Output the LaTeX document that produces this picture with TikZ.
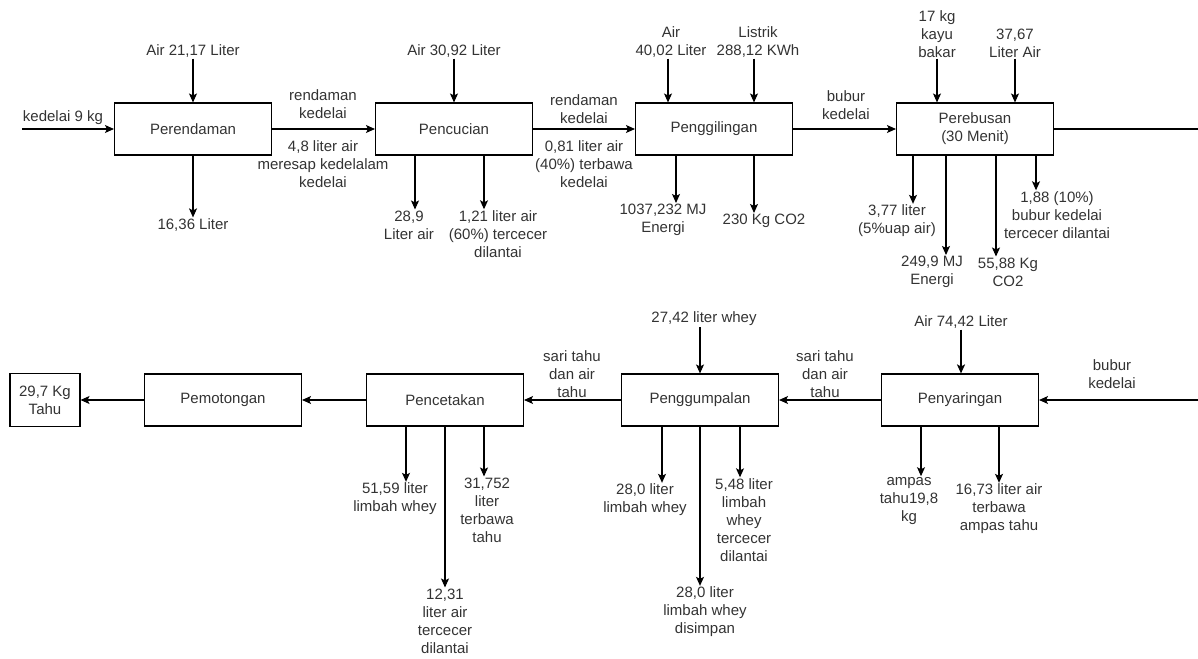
\documentclass[tikz,border=0pt]{standalone}
\usepackage{fontspec}
\setmainfont{Liberation Sans}
\usepackage{tikz}
\usetikzlibrary{positioning,arrows.meta,calc}
\definecolor{ink}{HTML}{333333}

\begin{document}
\begin{tikzpicture}[
    x=1pt, y=-1pt,
    font=\fontsize{15}{18}\selectfont, text=ink,
    proc/.style={draw, line width=1.1pt, minimum width=157pt, minimum height=52pt,
                 align=center, inner sep=2pt},
    lbl/.style={align=center, inner sep=1pt},
    flow/.style={line width=1.1pt, -{Stealth[length=9pt,width=8pt,inset=2pt]}},
    bigflow/.style={flow, line width=2pt}
  ]
    \useasboundingbox (0,0) rectangle (1198,658);

    % Top row: processes
    \node[proc] (rendam) at (193,129) {Perendaman};
    \node[proc] (cuci)   at (454,129) {Pencucian};
    \node[proc] (giling) at (714,129) {Penggilingan};
    \node[proc] (rebus)  at (975,129) {Perebusan\\(30 Menit)};

    % Perendaman
    \coordinate (kedelaiIn) at (22,129);
    \node[lbl] (kedelai) at (63,118) {kedelai 9 kg};
    \draw[flow] (kedelaiIn) -- (rendam.west);
    \node[lbl] (airRendam) at (193,51) {Air 21,17 Liter};
    \draw[flow] (airRendam.south) -- (rendam.north);
    \node[lbl] (sisaRendam) at (193,225) {16,36 Liter};
    \draw[flow] (rendam.south) -- (sisaRendam.north);
    \node[lbl] (rendamAtas) at (323,104) {rendaman\\kedelai};
    \node[lbl] (rendamBawah) at (323,164) {4,8 liter air\\meresap kedelalam\\kedelai};
    \draw[flow] (rendam.east) -- (cuci.west);

    % Pencucian
    \node[lbl] (airCuci) at (454,51) {Air 30,92 Liter};
    \draw[flow] (airCuci.south) -- (cuci.north);
    \node[lbl] (sisaCuci) at (409,225) {28,9\\Liter air};
    \draw[flow] (cuci.south -| 415,0) -- (sisaCuci.north -| 415,0);
    \node[lbl] (cecerCuci) at (498,234) {1,21 liter air\\(60\%) tercecer\\dilantai};
    \draw[flow] (cuci.south -| 484,0) -- (cecerCuci.north -| 484,0);
    \node[lbl] (cuciAtas) at (584,109) {rendaman\\kedelai};
    \node[lbl] (cuciBawah) at (584,164) {0,81 liter air\\(40\%) terbawa\\kedelai};
    \draw[flow] (cuci.east) -- (giling.west);

    % Penggilingan
    \node[lbl] (airGiling) at (671,42) {Air\\40,02 Liter};
    \draw[flow] (airGiling.south -| 668,0) -- (giling.north -| 668,0);
    \node[lbl] (listrik) at (758,42) {Listrik\\288,12 KWh};
    \draw[flow] (listrik.south -| 754,0) -- (giling.north -| 754,0);
    \node[lbl] (energiGiling) at (663,220) {1037,232 MJ\\Energi};
    \draw[flow] (giling.south -| 676,0) -- (energiGiling.north -| 676,0);
    \node[lbl] (co2Giling) at (764,221) {230 Kg CO2};
    \draw[flow] (giling.south -| 754,0) -- (co2Giling.north -| 754,0);
    \node[lbl] (bubur) at (846,105) {bubur\\kedelai};
    \draw[flow] (giling.east) -- (rebus.west);

    % Perebusan
    \node[lbl] (kayu) at (937,34) {17 kg\\kayu\\bakar};
    \draw[flow] (kayu.south) -- (rebus.north -| kayu);
    \node[lbl] (airRebus) at (1015,43) {37,67\\Liter Air};
    \draw[flow] (airRebus.south) -- (rebus.north -| airRebus);
    \coordinate (rebusOut) at (1198,129);
    \draw[line width=1.1pt] (rebus.east) -- (rebusOut);
    \node[lbl] (uap) at (897,221) {3,77 liter\\(5\%uap air)};
    \draw[flow] (rebus.south -| 913,0) -- (uap.north -| 913,0);
    \node[lbl] (energiRebus) at (932,272) {249,9 MJ\\Energi};
    \draw[flow] (rebus.south -| 946,0) -- (energiRebus.north -| 946,0);
    \node[lbl] (co2Rebus) at (1008,272) {55,88 Kg\\CO2};
    \draw[flow] (rebus.south -| 996,0) -- (co2Rebus.north -| 996,0);
    \node[lbl] (cecerRebus) at (1057,215) {1,88 (10\%)\\bubur kedelai\\tercecer dilantai};
    \draw[flow] (rebus.south -| 1036,0) -- (cecerRebus.north -| 1036,0);

    % Bottom row: processes
    \node[proc, minimum width=70pt, minimum height=53pt] (tahu) at (45,400) {29,7 Kg\\Tahu};
    \node[proc] (potong) at (223,400) {Pemotongan};
    \node[proc] (cetak)  at (445,400) {Pencetakan};
    \node[proc] (gumpal) at (700,400) {Penggumpalan};
    \node[proc] (saring) at (960,400) {Penyaringan};

    % Penyaringan
    \coordinate (buburIn) at (1198,400);
    \node[lbl] (buburBawah) at (1112,374) {bubur\\kedelai};
    \draw[flow] (buburIn) -- (saring.east);
    \node[lbl] (airSaring) at (961,322) {Air 74,42 Liter};
    \draw[bigflow] (airSaring.south) -- (saring.north -| airSaring);
    \node[lbl] (ampas) at (909,501) {ampas\\tahu19,8\\kg};
    \draw[flow] (saring.south -| 921,0) -- (ampas.north -| 921,0);
    \node[lbl] (airAmpas) at (999,509) {16,73 liter air\\terbawa\\ampas tahu};
    \draw[flow] (saring.south -| 999,0) -- (airAmpas.north -| 999,0);
    \node[lbl] (sariSaring) at (825,374) {sari tahu\\dan air\\tahu};
    \draw[flow] (saring.west) -- (gumpal.east);

    % Penggumpalan
    \node[lbl] (whey) at (704,319) {27,42 liter whey};
    \draw[flow] (whey.south -| 700,0) -- (gumpal.north);
    \node[lbl] (wheyLimbah) at (645,500) {28,0 liter\\limbah whey};
    \draw[flow] (gumpal.south -| 662,0) -- (wheyLimbah.north -| 662,0);
    \node[lbl] (wheySimpan) at (705,612) {28,0 liter\\limbah whey\\disimpan};
    \draw[flow] (gumpal.south) -- (wheySimpan.north -| gumpal);
    \node[lbl] (wheyCecer) at (744,520) {5,48 liter\\limbah\\whey\\tercecer\\dilantai};
    \draw[flow] (gumpal.south -| 740,0) -- (wheyCecer.north -| 740,0);
    \node[lbl] (sariGumpal) at (572,374) {sari tahu\\dan air\\tahu};
    \draw[flow] (gumpal.west) -- (cetak.east);

    % Pencetakan
    \node[lbl] (limbahCetak) at (395,499) {51,59 liter\\limbah whey};
    \draw[flow] (cetak.south -| 406,0) -- (limbahCetak.north -| 406,0);
    \node[lbl] (cecerCetak) at (445,621) {12,31\\liter air\\tercecer\\dilantai};
    \draw[flow] (cetak.south) -- (cecerCetak.north);
    \node[lbl] (airTahu) at (487,510) {31,752\\liter\\terbawa\\tahu};
    \draw[flow] (cetak.south -| 484,0) -- (airTahu.north -| 484,0);
    \draw[flow] (cetak.west) -- (potong.east);

    % Pemotongan
    \draw[flow] (potong.west) -- (tahu.east);
  \end{tikzpicture}
\end{document}
